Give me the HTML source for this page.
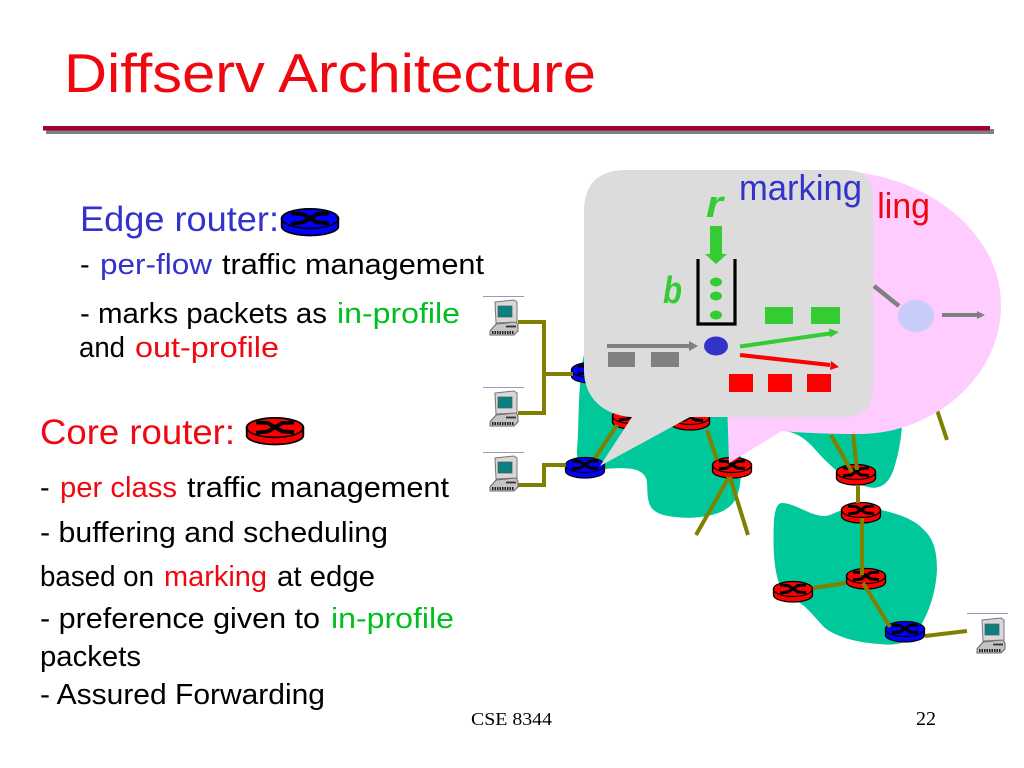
<!DOCTYPE html>
<html><head><meta charset="utf-8"><style>
html,body{margin:0;padding:0;background:#fff;width:1024px;height:768px;overflow:hidden}
svg{display:block}
text{font-family:"Liberation Sans",sans-serif;font-size:29px;fill:#000}
.bl{fill:#3333cc}.gr{fill:#00c020}.rd{fill:#f00810}
.big{font-size:35px}
.ol{stroke:#808000;stroke-width:4;fill:none}
</style></head><body>
<svg width="1024" height="768" viewBox="0 0 1024 768" xmlns="http://www.w3.org/2000/svg">
<defs>
<clipPath id="lingclip"><rect x="875.500" y="170" width="80" height="70"/></clipPath>
<g id="rr">
<path d="M-19.500,-3 V3 A19.500,7 0 0 0 19.500,3 V-3 Z" fill="#f00" stroke="#000" stroke-width="1.300"/>
<ellipse cx="0" cy="-3" rx="19.500" ry="7.500" fill="#f00" stroke="#000" stroke-width="1.300"/>
<path d="M-13,-7 L-5,-6.500 L5,0 L13,0.500 M-13,1 L-5,0 L5,-6.500 L13,-7" stroke="#000" stroke-width="3" fill="none"/>
</g>
<g id="br">
<path d="M-19.500,-3 V3 A19.500,7 0 0 0 19.500,3 V-3 Z" fill="#00f" stroke="#000" stroke-width="1.300"/>
<ellipse cx="0" cy="-3" rx="19.500" ry="7.500" fill="#00f" stroke="#000" stroke-width="1.300"/>
<path d="M-13,-7 L-5,-6.500 L5,0 L13,0.500 M-13,1 L-5,0 L5,-6.500 L13,-7" stroke="#000" stroke-width="3" fill="none"/>
</g>
<g id="pc">
<path d="M-15,13 L-9,6 L11,4 L13,7 L13,13 L9,17 L-15,17 Z" fill="#c4c4c4" stroke="#666" stroke-width="1"/>
<path d="M-10,-16 L9,-18 L12,-16 L12,4 L-9,5 Z" fill="#d8d8d8" stroke="#777" stroke-width="1"/>
<rect x="-7" y="-12" width="14" height="11" fill="#0a8080" stroke="#555" stroke-width=".7"/>
<path d="M-13,14.500 L9,14.500" stroke="#222" stroke-width="3" stroke-dasharray="1.500 1"/>
<path d="M1,8.500 H11" stroke="#333" stroke-width="1.800"/>
</g>
</defs>

<text x="64" y="92" style="font-size:55px" class="rd" textLength="532" lengthAdjust="spacingAndGlyphs">Diffserv Architecture</text>
<rect x="46" y="129" width="948" height="5" fill="#808080"/>
<rect x="43" y="126" width="947" height="4.500" fill="#a00030"/>

<text x="80" y="231" class="bl big" textLength="199" lengthAdjust="spacingAndGlyphs">Edge router:</text>
<g transform="translate(310,222.500) scale(1.45,1.3)"><use href="#br"/></g>
<text x="80" y="274">-</text>
<text x="100" y="274" class="bl" textLength="112" lengthAdjust="spacingAndGlyphs">per-flow</text>
<text x="222" y="274" textLength="262" lengthAdjust="spacingAndGlyphs">traffic management</text>
<text x="80" y="323" textLength="247" lengthAdjust="spacingAndGlyphs">- marks packets as</text>
<text x="337" y="323" class="gr" textLength="123" lengthAdjust="spacingAndGlyphs">in-profile</text>
<text x="79" y="357" textLength="46" lengthAdjust="spacingAndGlyphs">and</text>
<text x="135" y="357" class="rd" textLength="144" lengthAdjust="spacingAndGlyphs">out-profile</text>

<text x="40" y="444" class="rd big" textLength="195" lengthAdjust="spacingAndGlyphs">Core router:</text>
<g transform="translate(275,431.500) scale(1.45,1.3)"><use href="#rr"/></g>
<text x="40" y="497">-</text>
<text x="60" y="497" class="rd" textLength="117" lengthAdjust="spacingAndGlyphs">per class</text>
<text x="187" y="497" textLength="262" lengthAdjust="spacingAndGlyphs">traffic management</text>
<text x="40" y="542" textLength="348" lengthAdjust="spacingAndGlyphs">- buffering and scheduling</text>
<text x="40" y="586" textLength="114" lengthAdjust="spacingAndGlyphs">based on</text>
<text x="164" y="586" class="rd" textLength="103" lengthAdjust="spacingAndGlyphs">marking</text>
<text x="277" y="586" textLength="98" lengthAdjust="spacingAndGlyphs">at edge</text>
<text x="40" y="628" textLength="280" lengthAdjust="spacingAndGlyphs">- preference given to</text>
<text x="331" y="628" class="gr" textLength="123" lengthAdjust="spacingAndGlyphs">in-profile</text>
<text x="40" y="666" textLength="101" lengthAdjust="spacingAndGlyphs">packets</text>
<text x="40" y="704" textLength="285" lengthAdjust="spacingAndGlyphs">- Assured Forwarding</text>

<text x="471" y="725" style="font-family:'Liberation Serif',serif;font-size:18px" textLength="81" lengthAdjust="spacingAndGlyphs">CSE 8344</text>
<text x="916" y="725" style="font-family:'Liberation Serif',serif;font-size:20px">22</text>

<!-- clouds -->
<path d="M590,333 C576,370 580,420 577,450 C576,470 590,470 603,469 C620,468 645,465 647,482 C648,500 646,512 668,516 C690,520 725,518 735,500 C742,488 741,470 741,455 L742,400 L640,340 Z" fill="#00c89a"/>
<path d="M784,431 C795,432 803,437 812,446 C826,462 845,482 868,487 C880,490 890,484 895,465 C901,445 902,430 904,400 L800,400 L784,428 Z" fill="#00c89a"/>
<path d="M782,503 C795,503 810,516 824,516 C832,516 835,511 845,510 L881,510 C900,514 915,520 924,530 C935,540 937,555 937,570 C936,590 930,612 918,630 C908,644 895,646 880,644 C860,643 838,638 825,628 C815,618 810,610 800,603 C790,597 783,592 780,585 C773,570 773,540 774,520 C775,510 777,503 782,503 Z" fill="#00c89a"/>

<!-- routers -->
<use href="#br" x="591" y="373"/>
<use href="#rr" x="632" y="419"/>
<use href="#rr" x="690" y="420"/>
<use href="#br" x="585" y="468"/>
<use href="#rr" x="732" y="468"/>
<use href="#rr" x="856" y="475"/>
<use href="#rr" x="861" y="513"/>
<use href="#rr" x="866" y="579"/>
<use href="#rr" x="793" y="592"/>
<use href="#br" x="905" y="632"/>

<!-- links -->
<path class="ol" d="M518,322 H544 V413 H518 M544,374 H573 M518,485 H544 V465 H566"/>
<path class="ol" d="M595,458 L617,425 M707,430 L717,460 M729,477 L696,535 M730,477 L748,535 M831,435 L852,472 M853,433 L857,470 M858,485 V503 M862,518 V575 M863,583 L890,627 M813,588 L846,583 M925,636 L967,631 M936,407 L947,440"/>

<!-- computers -->
<g stroke="#9a9ac0" stroke-width="1"><path d="M483,296.500 H524 M483,387.500 H524 M483,452.500 H524 M967,613.500 H1008"/></g>
<use href="#pc" x="505" y="318"/>
<use href="#pc" x="505" y="409"/>
<use href="#pc" x="505" y="474"/>
<use href="#pc" x="992" y="636"/>

<!-- scheduling callout -->
<path d="M720,170 L830,170 C930,172 1001,235 1001,305 C1001,380 930,434 860,434 C830,434 805,433 782,431 L729,463 L727,400 L700,170 Z" fill="#ffccff"/>
<text x="768" y="218" class="rd" style="font-size:36px" textLength="162" lengthAdjust="spacingAndGlyphs" clip-path="url(#lingclip)">scheduling</text>
<path d="M874,286 L899,306" stroke="#808080" stroke-width="4.500"/>
<ellipse cx="916" cy="316" rx="18" ry="16" fill="#c8ccf8"/>
<path d="M942,315 H978" stroke="#808080" stroke-width="4"/>
<path d="M977,311 L985,315 L977,319 Z" fill="#808080"/>

<!-- marking callout -->
<path d="M626,170 H845 Q873,170 873,198 V389 Q873,417 845,417 H690 L600,466 L632,417 H630 C600,414 584,395 584,370 V212 Q584,170 626,170 Z" fill="#dcdcdc"/>
<text x="739" y="200" class="bl" style="font-size:36px" textLength="123" lengthAdjust="spacingAndGlyphs">marking</text>
<text x="706" y="217" style="font-size:38px;font-weight:bold;font-style:italic;fill:#33cc33" textLength="17" lengthAdjust="spacingAndGlyphs">r</text>
<text x="663" y="303" style="font-size:38px;font-weight:bold;font-style:italic;fill:#33cc33" textLength="19" lengthAdjust="spacingAndGlyphs">b</text>
<path d="M710,226 H722 V254 H727 L716,264 L705,254 H710 Z" fill="#33cc33"/>
<path d="M698,259 V324 H735 V259" fill="none" stroke="#000" stroke-width="3.200"/>
<ellipse cx="716" cy="282" rx="6" ry="4.500" fill="#33cc33"/>
<ellipse cx="716" cy="296" rx="6" ry="4.500" fill="#33cc33"/>
<ellipse cx="716" cy="315" rx="6" ry="4.500" fill="#33cc33"/>
<rect x="765" y="307" width="28" height="17" fill="#33cc33"/>
<rect x="811" y="307" width="29" height="17" fill="#33cc33"/>
<path d="M607,346 H690" stroke="#808080" stroke-width="4"/>
<path d="M689,341 L698,346 L689,351 Z" fill="#808080"/>
<rect x="608" y="352" width="27" height="15" fill="#808080"/>
<rect x="651" y="352" width="28" height="15" fill="#808080"/>
<ellipse cx="716" cy="346" rx="12" ry="9.500" fill="#3333cc"/>
<path d="M740,346.500 L830,333.500" stroke="#33cc33" stroke-width="4"/>
<path d="M829,328.500 L839,332 L830,337.500 Z" fill="#33cc33"/>
<path d="M740,355 L830,365" stroke="#f00" stroke-width="4"/>
<path d="M831,361 L839,367 L830,370 Z" fill="#f00"/>
<rect x="729" y="374" width="24" height="18" fill="#f00"/>
<rect x="768" y="374" width="24" height="18" fill="#f00"/>
<rect x="807" y="374" width="24" height="18" fill="#f00"/>
</svg>
</body></html>
